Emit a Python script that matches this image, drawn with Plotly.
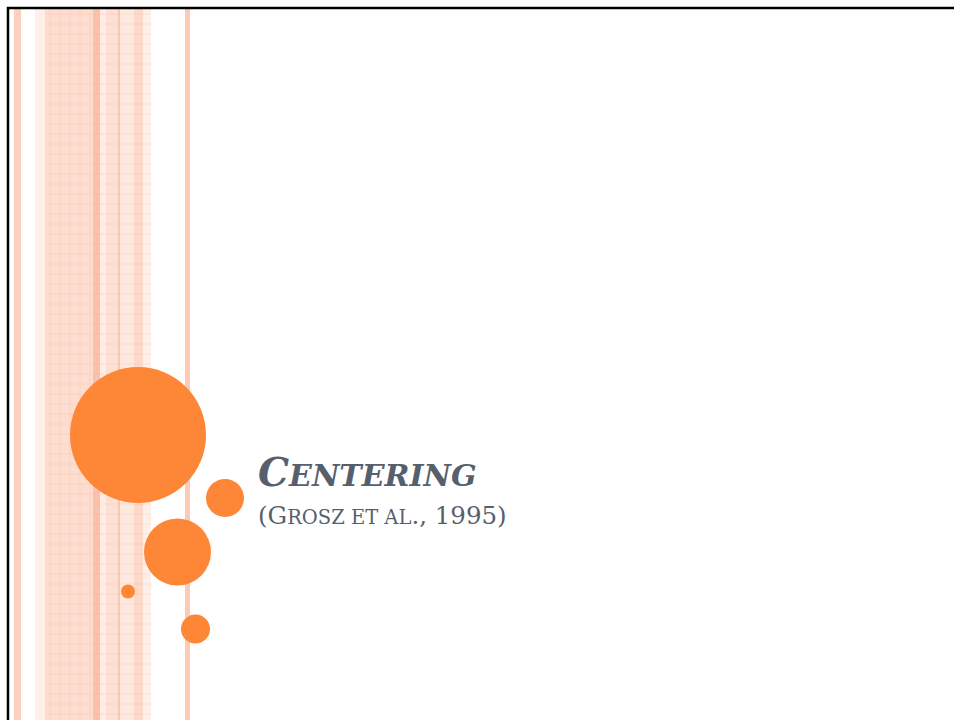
import plotly.graph_objects as go

# Slide text
title_first = "C"
title_rest = "ENTERING"
sub_parts = [("(", "big"), ("G", "big"), ("ROSZ ET AL", "small"), ("., 1995)", "big")]

# Decorative circles: centre x, centre y, radius (pixels on the slide)
circle_x = [138, 225, 177.5, 128, 195.5]
circle_y = [435, 498, 552, 591.5, 629]
circle_r = [68, 19, 33.5, 7, 14.5]

# Vertical stripes on the left: x0, x1, colour
stripe_x0 = [14, 35, 45, 93, 100, 106, 118, 120, 134, 143, 185]
stripe_x1 = [21, 45, 93, 100, 106, 118, 120, 134, 143, 151, 190]
stripe_col = ["#FCD0BF", "#FEEFE9", "#FDDDD0", "#FBC0AA", "#FEECE5", "#FDE0D4",
              "#FBC5B0", "#FEE9E0", "#FDD9CA", "#FEEFE9", "#FCCAB7"]

ORANGE = "#FE8637"
TEXT = "#575F6D"

fig = go.Figure()
fig.add_trace(go.Scatter(x=[0], y=[0], mode="markers", marker=dict(opacity=0),
                         hoverinfo="skip", showlegend=False))

shapes = []
for x0, x1, c in zip(stripe_x0, stripe_x1, stripe_col):
    shapes.append(dict(type="rect", xref="x", yref="y", x0=x0, x1=x1, y0=8, y1=720,
                       fillcolor=c, line=dict(width=0), layer="below"))
# faint texture lines across the patterned band
for yy in range(14, 720, 10):
    shapes.append(dict(type="line", xref="x", yref="y", x0=45, x1=151, y0=yy, y1=yy,
                       line=dict(color="rgba(251,180,150,0.28)", width=1), layer="below"))
for xx in range(50, 93, 10):
    shapes.append(dict(type="line", xref="x", yref="y", x0=xx, x1=xx, y0=8, y1=720,
                       line=dict(color="rgba(251,180,150,0.28)", width=1), layer="below"))

for cx, cy, r in zip(circle_x, circle_y, circle_r):
    shapes.append(dict(type="circle", xref="x", yref="y", x0=cx - r, x1=cx + r,
                       y0=cy - r, y1=cy + r, fillcolor=ORANGE, line=dict(width=0)))

# border
shapes.append(dict(type="path", xref="x", yref="y", path="M 8 720 L 8 8 L 960 8",
                   line=dict(color="black", width=2.5)))

title_html = (f"<b><i>{title_first}<span style='font-size:30px'>{title_rest}</span></i></b>")
sub_html = ""
for t, s in sub_parts:
    if s == "small":
        sub_html += f"<span style='font-size:19.5px'>{t}</span>"
    else:
        sub_html += t

annotations = [
    dict(x=256, y=497, xref="x", yref="y", text=title_html, showarrow=False,
         xanchor="left", yanchor="bottom", font=dict(family="DejaVu Serif", size=39, color=TEXT)),
    dict(x=256, y=532, xref="x", yref="y", text=sub_html, showarrow=False,
         xanchor="left", yanchor="bottom", font=dict(family="DejaVu Serif", size=24.5, color=TEXT)),
]

fig.update_layout(
    width=954, height=720, margin=dict(l=0, r=0, t=0, b=0),
    paper_bgcolor="white", plot_bgcolor="white",
    xaxis=dict(range=[0, 954], visible=False, fixedrange=True),
    yaxis=dict(range=[720, 0], visible=False, fixedrange=True),
    shapes=shapes, annotations=annotations, showlegend=False,
)
fig.write_html("out.html", config={"displayModeBar": False},
               post_script="document.body.style.margin='0';")
